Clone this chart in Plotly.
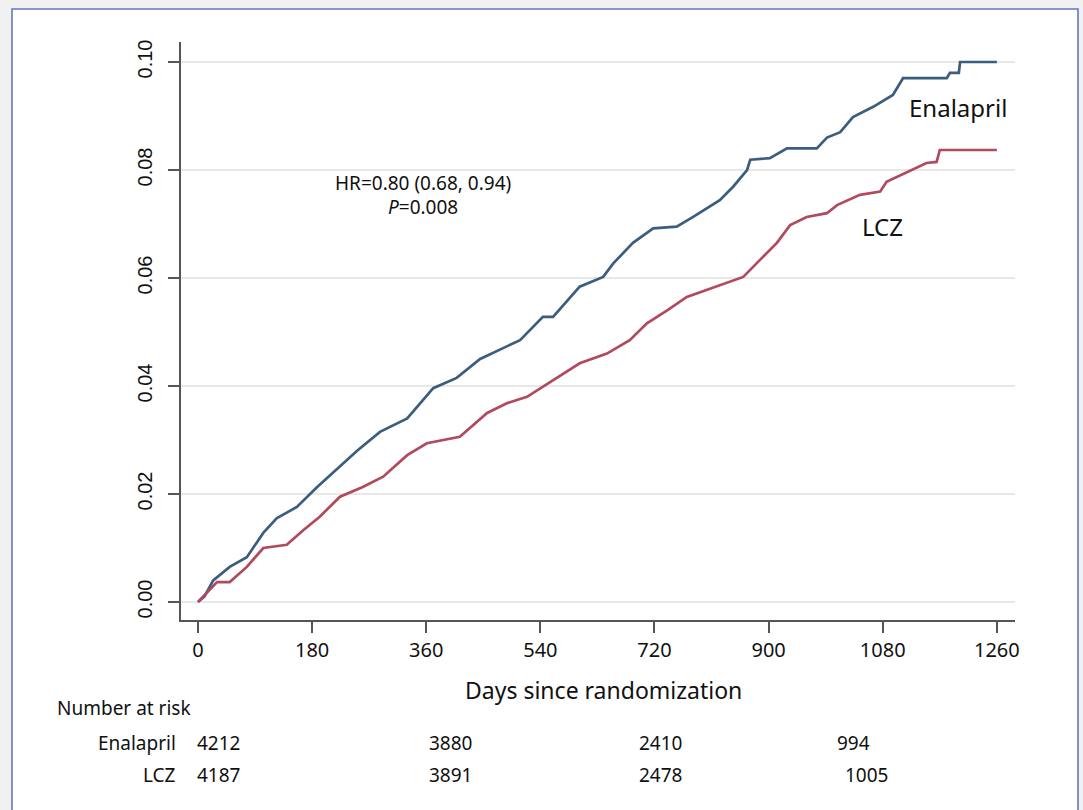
import plotly.graph_objects as go

# ---- data ----
enal_days = [0, 10, 24, 50, 77, 103, 124, 156, 188, 213, 251, 287, 330, 371, 408, 445, 476, 508,
             544, 560, 602, 639, 655, 686, 718, 755, 781, 823, 844, 866, 871, 902, 929, 976, 992,
             1013, 1033, 1065, 1096, 1112, 1181, 1186, 1200, 1202, 1260]
enal_rate = [0, 0.001, 0.004, 0.0065, 0.0083, 0.0128, 0.0155, 0.0176, 0.0213, 0.0239, 0.028, 0.0315,
             0.034, 0.0396, 0.0415, 0.045, 0.0467, 0.0485, 0.0528, 0.0528, 0.0584, 0.0602, 0.0627,
             0.0665, 0.0692, 0.0695, 0.0713, 0.0744, 0.0769, 0.0800, 0.0819, 0.0822, 0.084, 0.084,
             0.086, 0.087, 0.0898, 0.0917, 0.0939, 0.097, 0.097, 0.098, 0.098, 0.100, 0.100]

lcz_days = [0, 30, 50, 77, 103, 140, 166, 192, 224, 260, 292, 330, 361, 413, 456, 487, 519, 560,
            602, 645, 681, 708, 740, 771, 803, 834, 860, 886, 913, 934, 960, 992, 1008, 1044, 1076,
            1086, 1118, 1149, 1165, 1170, 1260]
lcz_rate = [0, 0.0037, 0.0037, 0.0065, 0.010, 0.0106, 0.0133, 0.0158, 0.0195, 0.0213, 0.0232, 0.0272,
            0.0294, 0.0306, 0.035, 0.0368, 0.038, 0.041, 0.0442, 0.046, 0.0485, 0.0516, 0.054, 0.0565,
            0.0578, 0.059, 0.0602, 0.0633, 0.0665, 0.0698, 0.0713, 0.072, 0.0735, 0.0754, 0.076,
            0.0778, 0.0796, 0.0813, 0.0815, 0.0837, 0.0837]

x_ticks = [0, 180, 360, 540, 720, 900, 1080, 1260]
y_ticks = [0.00, 0.02, 0.04, 0.06, 0.08, 0.10]
y_tick_labels = ["0.00", "0.02", "0.04", "0.06", "0.08", "0.10"]

risk_groups = ["Enalapril", "LCZ"]
risk_enal = ["4212", "3880", "2410", "994"]
risk_lcz = ["4187", "3891", "2478", "1005"]

# ---- layout helpers (pixel -> paper) ----
W, H = 1083, 810
L, R, T, B = 181, 1015, 42, 620
def px(x):
    return (x - L) / (R - L)
def py(y):
    return (B - y) / (B - T)

BLUE = "#3b5d7e"
RED = "#b04a5c"
TXT = "Noto Sans"
INK = "#111111"

fig = go.Figure()
fig.add_trace(go.Scatter(x=enal_days, y=enal_rate, mode="lines",
                         line=dict(color=BLUE, width=2.7), name="Enalapril", showlegend=False))
fig.add_trace(go.Scatter(x=lcz_days, y=lcz_rate, mode="lines",
                         line=dict(color=RED, width=2.7), name="LCZ", showlegend=False))

# white framed panel on gray page
fig.add_shape(type="rect", xref="paper", yref="paper",
              x0=px(12), x1=px(1078), y0=py(830), y1=py(9),
              fillcolor="white", line=dict(color="#6675c4", width=1.6), layer="below")

def note(x, y, text, size, xanchor="center", xref="paper", yref="paper"):
    return dict(x=x, y=y, xref=xref, yref=yref, text=text, showarrow=False,
                xanchor=xanchor, yanchor="middle", font=dict(family=TXT, size=size, color=INK))

ann = []
ann.append(note(355, 0.0776, "HR=0.80 (0.68, 0.94)", 19, xref="x", yref="y"))
ann.append(note(355, 0.0731, "<i>P</i>=0.008", 19, xref="x", yref="y"))
ann.append(note(1118, 0.0915, "Enalapril", 24, xanchor="left", xref="x", yref="y"))
ann.append(note(1044, 0.0696, "LCZ", 24, xanchor="left", xref="x", yref="y"))
ann.append(note(px(603), py(690), "Days since randomization", 23))
ann.append(note(px(55), py(708), "Number at risk", 19, xanchor="left"))
row_y = [743, 775]
rows = [risk_enal, risk_lcz]
col_x = [[195, 427, 637, 835], [195, 427, 637, 843]]
for gi, g in enumerate(risk_groups):
    ann.append(note(px(178), py(row_y[gi]), g, 19, xanchor="right"))
    for ci, v in enumerate(rows[gi]):
        ann.append(note(px(col_x[gi][ci]), py(row_y[gi]), v, 19, xanchor="left"))

fig.update_layout(
    width=W, height=H,
    margin=dict(l=L, r=W - R, t=T, b=H - B, pad=0),
    paper_bgcolor="#f1f1f1", plot_bgcolor="rgba(0,0,0,0)",
    annotations=ann, showlegend=False,
)
fig.update_xaxes(range=[-26.8, 1288.6], tickvals=x_ticks, ticks="outside", ticklen=11, tickwidth=1.5,
                 tickcolor="#555", showline=True, linecolor="#555", linewidth=1.8, showgrid=False,
                 zeroline=False, tickfont=dict(family=TXT, size=20, color=INK))
fig.update_yaxes(range=[-0.00333, 0.1037], tickvals=y_ticks, ticktext=y_tick_labels, ticks="outside",
                 ticklen=11, tickwidth=1.5, tickcolor="#555", showline=True, linecolor="#555",
                 linewidth=1.8, showgrid=True, gridcolor="#e8e8e8", gridwidth=2, zeroline=False,
                 tickangle=-90, ticklabelstandoff=8,
                 tickfont=dict(family="Liberation Sans", size=20, color=INK))

fig.write_html("out.html",
               config={"displayModeBar": False},
               post_script="document.body.style.margin='0';document.body.style.padding='0';"
                           "document.body.style.background='#f1f1f1';"
                           "document.documentElement.style.overflow='hidden';")
